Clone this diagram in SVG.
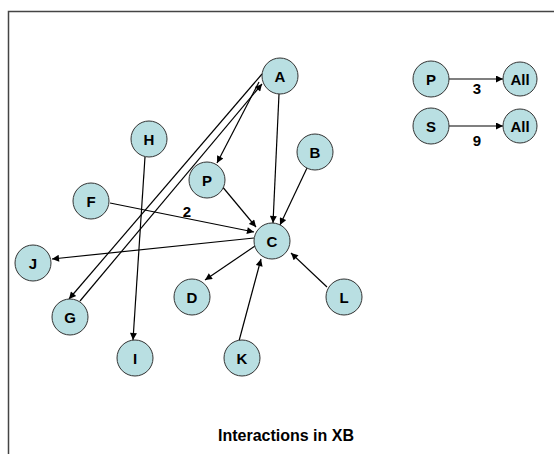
<svg xmlns="http://www.w3.org/2000/svg" width="554" height="454" viewBox="0 0 554 454">
<defs>
<marker id="arr" viewBox="0 0 10 10" refX="10" refY="5" markerWidth="9" markerHeight="7" orient="auto" markerUnits="userSpaceOnUse"><path d="M0,0 L10,5 L0,10 z" fill="#000"/></marker>
<style>
.n{fill:#B9DFE2;stroke:#333;stroke-width:1}
.t{font-family:"Liberation Sans",Arial,sans-serif;font-weight:bold;font-size:15px;text-anchor:middle;dominant-baseline:central;fill:#000}
.e{stroke:#000;stroke-width:1.2;fill:none;marker-end:url(#arr)}
.lb{font-family:"Liberation Sans",Arial,sans-serif;font-weight:bold;font-size:15px;text-anchor:middle;fill:#000}
</style>
</defs>
<rect width="554" height="454" fill="#fff"/>
<path d="M8.5,454 V11.5 H554" stroke="#444" stroke-width="1.5" fill="none"/>
<g id="connectors">
<line class="e" x1="279" y1="94" x2="273" y2="223"/>
<line class="e" x1="307" y1="168" x2="280" y2="225"/>
<line class="e" x1="211" y1="173" x2="256" y2="227"/>
<line class="e" x1="259" y1="82" x2="217" y2="163"/>
<line class="e" x1="262" y1="74" x2="69" y2="299"/>
<line class="e" x1="80" y1="301" x2="262" y2="84"/>
<line class="e" x1="145" y1="157" x2="133" y2="340"/>
<line class="e" x1="110" y1="203" x2="254" y2="232"/>
<line class="e" x1="254" y1="238" x2="52" y2="259"/>
<line class="e" x1="255" y1="246" x2="205" y2="280"/>
<line class="e" x1="239" y1="341" x2="261" y2="259"/>
<line class="e" x1="327" y1="287" x2="291" y2="253"/>
<line class="e" x1="449" y1="79" x2="503" y2="79"/>
<line class="e" x1="449" y1="126" x2="503" y2="126"/>
<text class="lb" x="187" y="217">2</text>
<text class="lb" x="477" y="94">3</text>
<text class="lb" x="477" y="146">9</text>
</g>
<g id="A"><circle class="n" cx="280" cy="76" r="18"/><text class="t" x="280" y="76">A</text></g>
<g id="P"><circle class="n" cx="207" cy="180" r="18"/><text class="t" x="207" y="180">P</text></g>
<g id="B"><circle class="n" cx="315" cy="152" r="18"/><text class="t" x="315" y="152">B</text></g>
<g id="H"><circle class="n" cx="149" cy="139" r="18"/><text class="t" x="149" y="139">H</text></g>
<g id="F"><circle class="n" cx="91" cy="201" r="18"/><text class="t" x="91" y="201">F</text></g>
<g id="J"><circle class="n" cx="33" cy="263" r="18"/><text class="t" x="33" y="263">J</text></g>
<g id="G"><circle class="n" cx="70" cy="317" r="18"/><text class="t" x="70" y="317">G</text></g>
<g id="I"><circle class="n" cx="135" cy="358" r="18"/><text class="t" x="135" y="358">I</text></g>
<g id="C"><circle class="n" cx="272" cy="241" r="18"/><text class="t" x="272" y="241">C</text></g>
<g id="D"><circle class="n" cx="192" cy="297" r="18"/><text class="t" x="192" y="297">D</text></g>
<g id="L"><circle class="n" cx="344" cy="297" r="18"/><text class="t" x="344" y="297">L</text></g>
<g id="K"><circle class="n" cx="242" cy="358" r="18"/><text class="t" x="242" y="358">K</text></g>
<g id="P2"><circle class="n" cx="431" cy="79" r="18"/><text class="t" x="431" y="79">P</text></g>
<g id="All1"><circle class="n" cx="520" cy="79" r="17"/><text class="t" x="520" y="79">All</text></g>
<g id="S"><circle class="n" cx="431" cy="126" r="18"/><text class="t" x="431" y="126">S</text></g>
<g id="All2"><circle class="n" cx="520" cy="126" r="17"/><text class="t" x="520" y="126">All</text></g>
<text x="286" y="441" font-family="'Liberation Sans',Arial,sans-serif" font-weight="bold" font-size="16" text-anchor="middle">Interactions in XB</text>
</svg>
